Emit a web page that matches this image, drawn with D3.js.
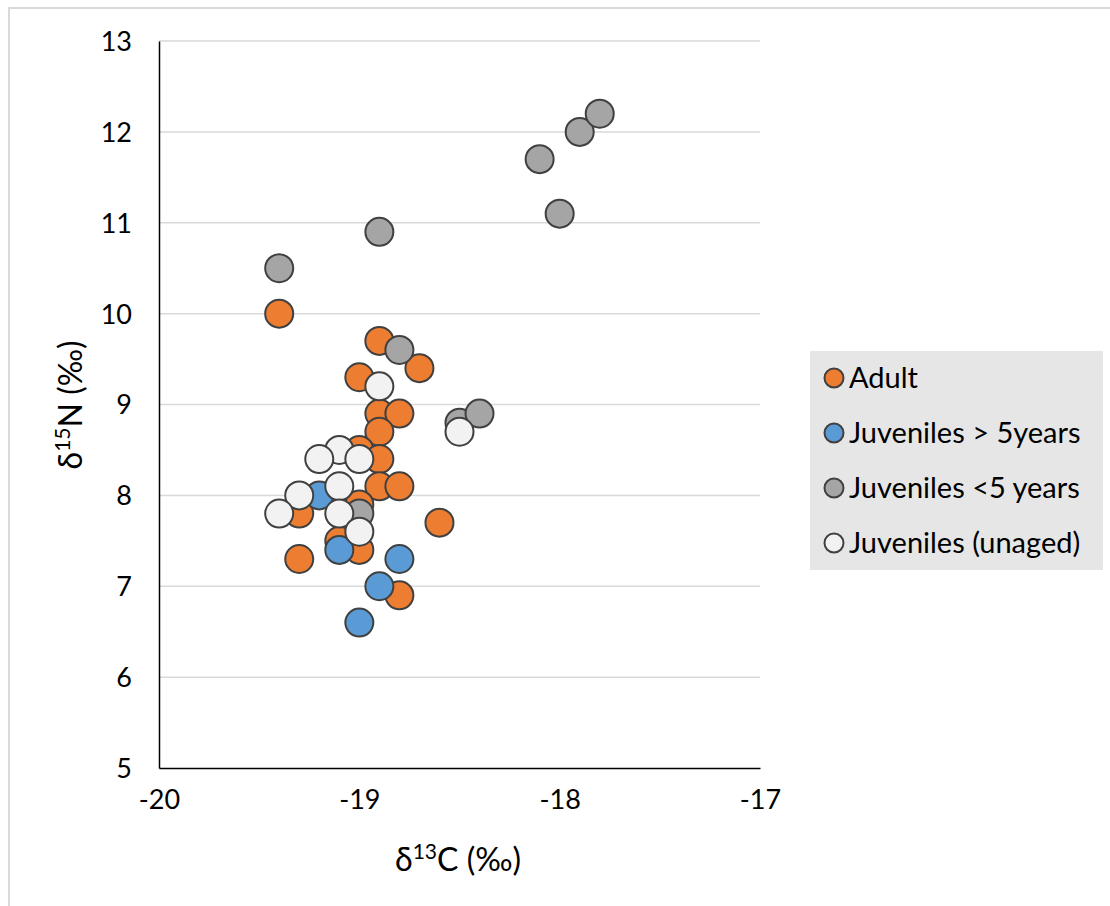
<!DOCTYPE html>
<html>
<head>
<meta charset="utf-8">
<script src="https://cdn.jsdelivr.net/npm/d3@7"></script>
<style>
  body { margin: 0; background: #fff; }
  svg { display: block; font-family: Lato, "Open Sans", sans-serif; }
</style>
</head>
<body>
<svg id="chart"></svg>
<script>
// data: [d13C, d15N]
var adult = [
  [-19.4, 10.0], [-18.9, 9.7], [-18.7, 9.4], [-19.0, 9.3], [-18.9, 8.9], [-18.8, 8.9],
  [-18.9, 8.7], [-19.0, 8.5], [-18.9, 8.4], [-18.9, 8.1], [-18.8, 8.1], [-19.0, 7.9],
  [-19.3, 7.8], [-18.6, 7.7], [-19.1, 7.5], [-19.0, 7.4], [-19.3, 7.3], [-18.8, 6.9]
];
var juvOver5 = [
  [-19.2, 8.0], [-19.1, 7.4], [-18.8, 7.3], [-18.9, 7.0], [-19.0, 6.6]
];
var juvUnder5 = [
  [-19.4, 10.5], [-18.9, 10.9], [-18.1, 11.7], [-17.9, 12.0], [-17.8, 12.2], [-18.0, 11.1],
  [-18.8, 9.6], [-18.5, 8.8], [-18.4, 8.9], [-19.0, 7.8]
];
var juvUnaged = [
  [-18.9, 9.2], [-18.5, 8.7], [-19.1, 8.5], [-19.2, 8.4], [-19.0, 8.4], [-19.1, 8.1],
  [-19.3, 8.0], [-19.4, 7.8], [-19.1, 7.8], [-19.0, 7.6]
];

var seriesNames = ["Adult", "Juveniles > 5years", "Juveniles <5 years", "Juveniles (unaged)"];
var seriesColors = ["#ED7D31", "#5B9BD5", "#A5A5A5", "#F2F2F2"];
var seriesData = [adult, juvOver5, juvUnder5, juvUnaged];

var xTicks = [-20, -19, -18, -17];
var yTicks = [5, 6, 7, 8, 9, 10, 11, 12, 13];

var W = 1110, H = 906;
var svg = d3.select("#chart").attr("width", W).attr("height", H);

// outer chart frame (only top/left edges visible in the crop)
svg.append("rect").attr("x", 9).attr("y", 8).attr("width", W + 10).attr("height", H + 10)
  .attr("fill", "#fff").attr("stroke", "#D9D9D9").attr("stroke-width", 2);

var x = d3.scaleLinear().domain([-20, -17]).range([159, 760]);
var y = d3.scaleLinear().domain([5, 13]).range([768, 41]);

// gridlines
svg.append("g").selectAll("line").data(yTicks.filter(function(d){ return d > 5; })).enter().append("line")
  .attr("x1", x(-20)).attr("x2", x(-17))
  .attr("y1", function(d){ return y(d); }).attr("y2", function(d){ return y(d); })
  .attr("stroke", "#D9D9D9").attr("stroke-width", 1.5);

// axes (plain hyphen for negatives, like the original)
var plain = function(d){ return String(d); };
var yAxis = svg.append("g").attr("transform", "translate(" + x(-20) + ",0)")
  .call(d3.axisLeft(y).tickValues(yTicks).tickSize(0).tickPadding(27).tickFormat(plain));
var xAxis = svg.append("g").attr("transform", "translate(0," + y(5) + ")")
  .call(d3.axisBottom(x).tickValues(xTicks).tickSize(0).tickPadding(22).tickFormat(plain));

[xAxis, yAxis].forEach(function(a){
  a.select(".domain").attr("stroke", "#000").attr("stroke-width", 1.5);
  a.selectAll("text").attr("font-size", 27).attr("fill", "#000").attr("font-family", "Lato, sans-serif");
});
yAxis.selectAll("text").attr("dy", "0.35em");

// points, series drawn in order so later ones sit on top
seriesData.forEach(function(data, i){
  svg.append("g").selectAll("circle").data(data).enter().append("circle")
    .attr("cx", function(d){ return x(d[0]); })
    .attr("cy", function(d){ return y(d[1]); })
    .attr("r", 14)
    .attr("fill", seriesColors[i])
    .attr("stroke", "#404040").attr("stroke-width", 2);
});

// axis titles
var xt = svg.append("text").attr("x", 458).attr("y", 871).attr("text-anchor", "middle")
  .attr("font-size", 32).attr("fill", "#000");
xt.append("tspan").text("δ");
xt.append("tspan").attr("font-size", 21).attr("dy", -12).text("13");
xt.append("tspan").attr("dy", 12).text("C (‰)");

var yt = svg.append("text").attr("transform", "translate(82,405) rotate(-90)").attr("text-anchor", "middle")
  .attr("font-size", 32).attr("fill", "#000");
yt.append("tspan").text("δ");
yt.append("tspan").attr("font-size", 21).attr("dy", -12).text("15");
yt.append("tspan").attr("dy", 12).text("N (‰)");

// legend
var lg = svg.append("g");
lg.append("rect").attr("x", 810).attr("y", 351).attr("width", 293).attr("height", 219).attr("fill", "#E6E6E6");
var items = lg.selectAll("g.item").data(seriesNames).enter().append("g")
  .attr("transform", function(d, i){ return "translate(0," + (378 + i * 55) + ")"; });
items.append("circle").attr("cx", 834).attr("cy", 0).attr("r", 9.5)
  .attr("fill", function(d, i){ return seriesColors[i]; })
  .attr("stroke", "#404040").attr("stroke-width", 2);
items.append("text").attr("x", 849).attr("y", 0).attr("dy", "0.35em")
  .attr("font-size", 29).attr("fill", "#000").text(function(d){ return d; });
</script>
</body>
</html>
